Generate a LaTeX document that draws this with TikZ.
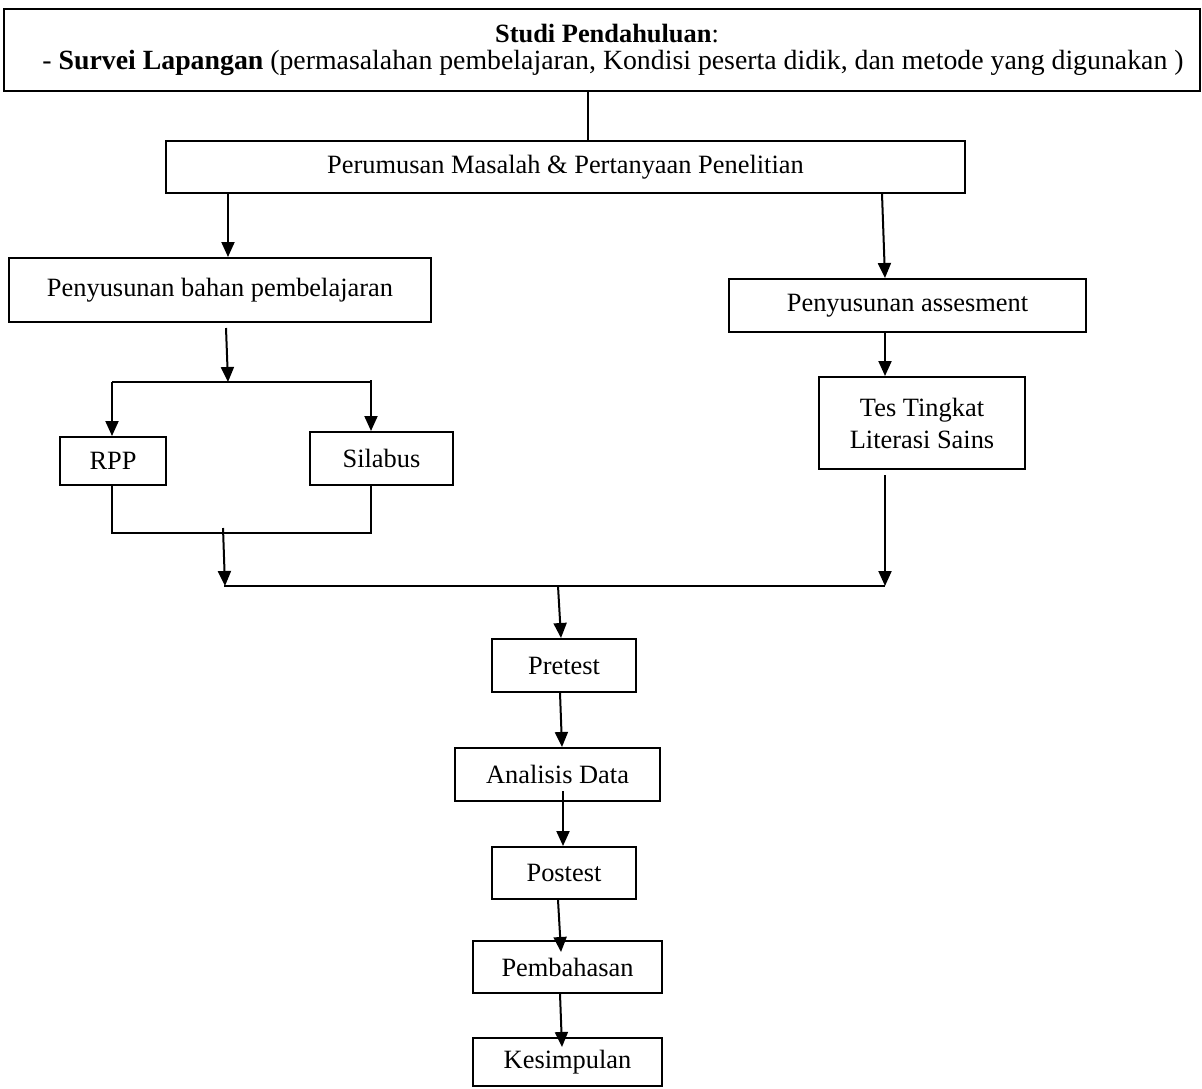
\documentclass[tikz,border=0pt]{standalone}
\usepackage{fontspec}
\setmainfont{Liberation Serif}
\usetikzlibrary{arrows.meta,calc}
\begin{document}
\begin{tikzpicture}[x=0.5pt,y=-0.5pt,
  box/.style={draw,line width=1pt,rectangle,inner sep=0pt,align=center,font=\fontsize{13.2pt}{16pt}\selectfont},
  conn/.style={line width=1pt},
  arr/.style={line width=1pt,-{Triangle[width=6.5pt,length=7.5pt]}},
  thickline/.style={line width=1.4pt}]
\useasboundingbox (0,0) rectangle (1202,1088);
% boxes
\node[box,minimum width=1196*0.5pt,minimum height=82*0.5pt,font=\fontsize{13.2pt}{13.5pt}\selectfont] (top) at (602,50)
  {\hspace*{5pt}\textbf{Studi Pendahuluan}:\\{\fontsize{13.9pt}{13.5pt}\selectfont\hspace*{11pt}- \textbf{Survei Lapangan} (permasalahan pembelajaran, Kondisi peserta didik, dan metode yang digunakan )}};
\node[box,minimum width=799*0.5pt,minimum height=52*0.5pt] (perum) at (565.5,167) {Perumusan Masalah \& Pertanyaan Penelitian};
\node[box,minimum width=422*0.5pt,minimum height=64*0.5pt] (bahan) at (220,290) {Penyusunan bahan pembelajaran};
\node[box,minimum width=357*0.5pt,minimum height=53*0.5pt] (assess) at (907.5,305.5) {Penyusunan assesment};
\node[box,minimum width=206*0.5pt,minimum height=92*0.5pt] (tes) at (922,423) {Tes Tingkat\\Literasi Sains};
\node[box,minimum width=106*0.5pt,minimum height=48*0.5pt] (rpp) at (113,461) {RPP};
\node[box,minimum width=143*0.5pt,minimum height=53*0.5pt] (silabus) at (381.5,458.5) {Silabus};
\node[box,minimum width=144*0.5pt,minimum height=53*0.5pt] (pretest) at (564,665.5) {Pretest};
\node[box,minimum width=205*0.5pt,minimum height=53*0.5pt] (analisis) at (557.5,774.5) {Analisis Data};
\node[box,minimum width=144*0.5pt,minimum height=52*0.5pt] (postest) at (564,873) {Postest};
\node[box,minimum width=189*0.5pt,minimum height=52*0.5pt] (pembahasan) at (567.5,967) {Pembahasan};
\node[box,minimum width=189*0.5pt,minimum height=48*0.5pt] (kesimpulan) at (567.5,1062) {Kesimpulan};
% junction coordinates
\coordinate (xtop) at (588,0);
\coordinate (xl) at (228,0);
\coordinate (xr1) at (882,0);
\coordinate (xr2) at (885,0);
\coordinate (splitL) at (112,382);
\coordinate (splitM) at (228,382);
\coordinate (splitR) at (371,382);
\coordinate (brL) at (112,533);
\coordinate (brM) at (223,533);
\coordinate (brR) at (371,533);
\coordinate (lineL) at (224,586);
\coordinate (lineM) at (225,586);
\coordinate (lineR) at (885,586);
\coordinate (lineC) at (558,586);
% connectors
\draw[conn] (top.south -| xtop) -- (perum.north -| xtop);
\draw[arr] (perum.south -| xl) -- (bahan.north -| xl);
\draw[arr] (perum.south -| xr1) -- (assess.north -| xr2);
\draw[arr] ($(bahan.south)+(6,5)$) -- (splitM);
\draw[conn] (splitL) -- (splitR);
\draw[arr] (splitL) -- (rpp.north -| splitL);
\draw[arr] ($(splitR)+(0,-2)$) -- (silabus.north -| splitR);
\draw[conn] (rpp.south -| brL) -- (brL) -- (brR) -- (silabus.south -| brR);
\draw[arr] ($(brM)+(0,-5)$) -- (lineM);
\draw[arr] (assess.south -| xr2) -- (tes.north -| xr2);
\draw[arr] ($(tes.south -| xr2)+(0,5)$) -- (lineR);
\draw[thickline] (lineL) -- (lineR);
\draw[arr] (lineC) -- ($(pretest.north)+(-3,0)$);
\draw[arr] ($(pretest.south)+(-4,0)$) -- ($(analisis.north)+(4.5,0)$);
\draw[arr] ($(analisis.south)+(5.5,-11)$) -- ($(postest.north)+(-1,0)$);
\draw[arr] ($(postest.south)+(-6,0)$) -- ($(pembahasan.north)+(-6.5,12)$);
\draw[arr] ($(pembahasan.south)+(-7.5,0)$) -- ($(kesimpulan.north)+(-5.5,10)$);
\end{tikzpicture}
\end{document}
